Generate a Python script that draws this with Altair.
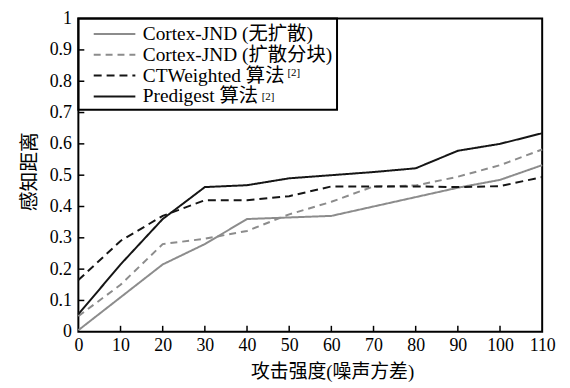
import altair as alt
import pandas as pd

# ---- data ----
x_vals = [0, 10, 20, 30, 40, 50, 60, 70, 80, 90, 100, 110]
series_names = ["Cortex-JND (无扩散)", "Cortex-JND (扩散分块)", "CTWeighted 算法", "Predigest 算法"]
cortex_plain = [0.005, 0.11, 0.215, 0.28, 0.36, 0.365, 0.37, 0.40, 0.43, 0.46, 0.485, 0.532]
cortex_block = [0.05, 0.15, 0.28, 0.297, 0.322, 0.375, 0.415, 0.464, 0.467, 0.495, 0.532, 0.582]
ctweighted = [0.165, 0.29, 0.37, 0.42, 0.42, 0.433, 0.464, 0.464, 0.464, 0.462, 0.465, 0.494]
predigest = [0.056, 0.215, 0.36, 0.462, 0.468, 0.49, 0.50, 0.51, 0.522, 0.578, 0.60, 0.634]

x_ticks = [0, 10, 20, 30, 40, 50, 60, 70, 80, 90, 100, 110]
y_ticks = [0, 0.1, 0.2, 0.3, 0.4, 0.5, 0.6, 0.7, 0.8, 0.9, 1]
x_title = "攻击强度(噪声方差)"
y_title = "感知距离"
sup_label = "[2]"

rows = []
for name, vals in zip(series_names, [cortex_plain, cortex_block, ctweighted, predigest]):
    for xv, yv in zip(x_vals, vals):
        rows.append({"series": name, "x": xv, "y": yv})
df = pd.DataFrame(rows)

FONT = "Liberation Serif, Noto Sans CJK SC"
GRAY = "#8c8c8c"
BLACK = "#151515"
W, H = 468, 316

xscale = alt.Scale(domain=[0, 110], nice=False, zero=False)
yscale = alt.Scale(domain=[0, 1], nice=False)

x_axis = alt.Axis(
    values=x_ticks, format="d", labelFont=FONT, labelFontSize=18, labelColor="black",
    labelPadding=5, ticks=False, domain=False, grid=False, labelFlush=False, labelOverlap=False,
    title=x_title, titleFont=FONT, titleFontSize=19, titleFontWeight="normal", titleColor="black",
    titleX=256, titleY=40, titleBaseline="middle", titleAlign="center")
y_axis = alt.Axis(
    values=y_ticks, format=".1~f", labelFont=FONT, labelFontSize=18, labelColor="black",
    labelPadding=7, ticks=False, domain=False, grid=False, labelFlush=False, labelOverlap=False,
    title=y_title, titleFont=FONT, titleFontSize=20, titleFontWeight="normal", titleColor="black",
    titleX=-49, titleY=154, titleBaseline="middle", titleAlign="center", titleAngle=270)

lines = alt.Chart(df).mark_line(strokeWidth=2).encode(
    x=alt.X("x:Q", scale=xscale, axis=x_axis),
    y=alt.Y("y:Q", scale=yscale, axis=y_axis),
    color=alt.Color("series:N", scale=alt.Scale(domain=series_names, range=[GRAY, GRAY, BLACK, BLACK]),
                    legend=alt.Legend(title=None, orient="top-left", offset=0)),
    strokeDash=alt.StrokeDash("series:N", scale=alt.Scale(domain=series_names,
                              range=[[1, 0], [7, 5], [8, 5], [1, 0]]),
                              legend=alt.Legend(title=None, orient="top-left", offset=0)),
    order=alt.Order("x:Q"),
)

xt = alt.Chart(pd.DataFrame({"x": x_ticks[1:-1]})).mark_rule(color="black", strokeWidth=1.5).encode(
    x=alt.X("x:Q", scale=xscale, axis=x_axis),
    y=alt.value(H), y2=alt.value(H - 6),
)
yt = alt.Chart(pd.DataFrame({"y": y_ticks[1:-1]})).mark_rule(color="black", strokeWidth=1.5).encode(
    y=alt.Y("y:Q", scale=yscale, axis=y_axis),
    x=alt.value(0), x2=alt.value(6),
)

sup1 = alt.Chart(pd.DataFrame({"t": [sup_label]})).mark_text(
    font=FONT, fontSize=11, color="black", align="left", baseline="middle").encode(
    text="t:N", x=alt.value(211), y=alt.value(55))
sup2 = alt.Chart(pd.DataFrame({"t": [sup_label]})).mark_text(
    font=FONT, fontSize=11, color="black", align="left", baseline="middle").encode(
    text="t:N", x=alt.value(185), y=alt.value(79))

chart = alt.layer(lines, xt, yt, sup1, sup2).properties(
    width=W, height=H,
    padding={"left": 71, "top": 9, "right": 20, "bottom": 50},
    autosize=alt.AutoSizeParams(type="none"),
).configure_view(stroke="black", strokeWidth=2).configure_legend(
    strokeColor="black", strokeWidth=2, padding=4, symbolOffset=21, symbolType="M-2,0H2",
    symbolSize=441, symbolStrokeWidth=2, labelFont=FONT, labelFontSize=19.5, labelColor="black",
    labelOffset=17, rowPadding=0, labelLimit=400,
)

chart.save("out.html", embed_options={"renderer": "svg", "actions": False})
